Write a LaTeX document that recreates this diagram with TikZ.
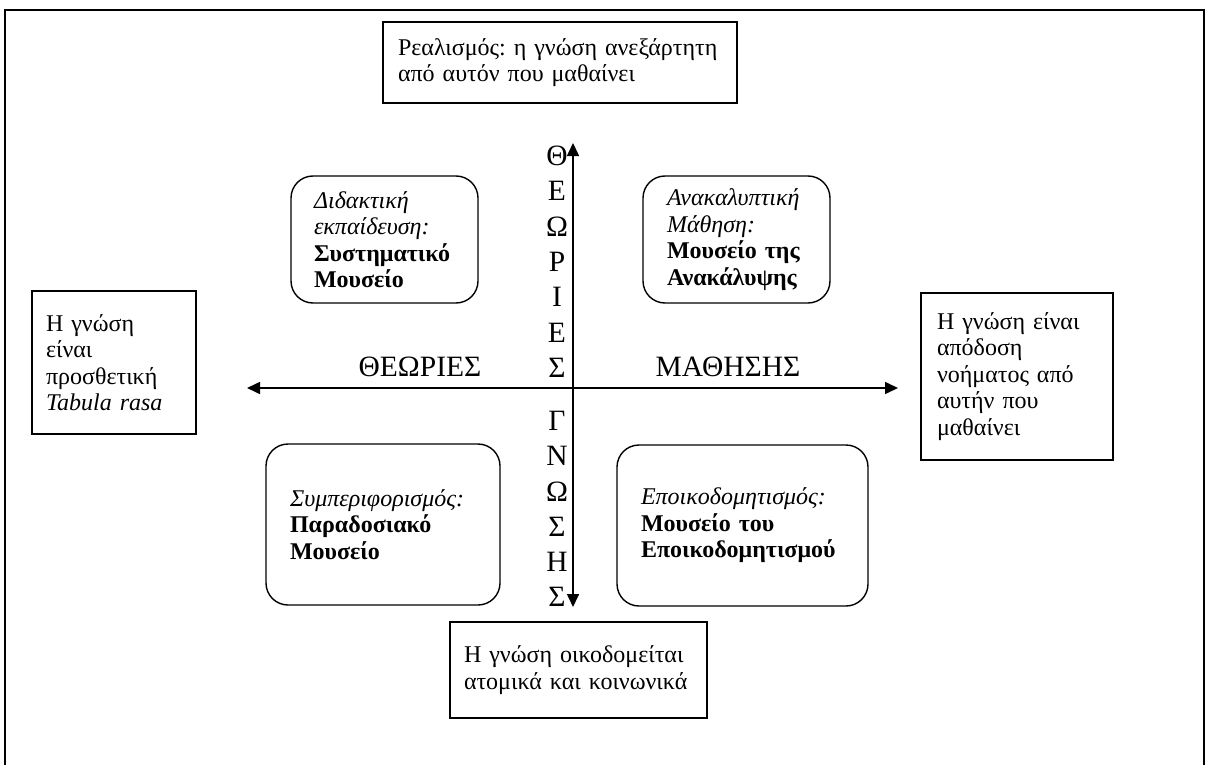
\documentclass[tikz,border=0pt]{standalone}
\usepackage{fontspec}
\setmainfont{Liberation Serif}
\usetikzlibrary{arrows.meta}
\frenchspacing

\tikzset{
	txtbox/.style={draw, line width=1.4pt, align=left, inner ysep=0pt,
		font=\fontsize{24}{26.5}\selectfont},
	rbox/.style={txtbox, rounded corners=22pt},
	axislbl/.style={inner sep=0pt, font=\fontsize{29.5}{29.5}\selectfont},
	axisline/.style={line width=1.6pt,
		{Triangle[length=13pt,width=12pt]}-{Triangle[length=13pt,width=12pt]}}
}

\begin{document}
\begin{tikzpicture}[x=1pt,y=-1pt]
		
		\useasboundingbox (0,0) rectangle (1209,765);
		
		% Πλαίσιο
		\draw[line width=1.5pt] (5,765) -- (5,10) -- (1204,10) -- (1204,765);
		
		% Πλαίσια γνώσης
		\node[txtbox, text width=324pt, inner xsep=15pt, minimum height=81pt] (realism) at (560,62.5)
			{Ρεαλισμός: η γνώση ανεξάρτητη\\από αυτόν που μαθαίνει};
		\node[txtbox, text width=136pt, inner xsep=14pt, minimum height=143pt] (tabula) at (114,362.5)
			{Η γνώση\\είναι\\προσθετική\\\textit{Tabula rasa}};
		\node[txtbox, text width=160pt, inner xsep=16pt, minimum height=167pt] (meaning) at (1017,376.5)
			{Η γνώση είναι\\απόδοση\\νοήματος από\\αυτήν που\\μαθαίνει};
		\node[txtbox, text width=229pt, inner xsep=14pt, minimum height=96pt] (social) at (578.5,670)
			{Η γνώση οικοδομείται\\ατομικά και κοινωνικά};
		
		% Μουσεία
		\node[rbox, text width=141pt, inner xsep=23pt, minimum height=127pt] (systematic) at (384.5,239.5)
			{\textit{Διδακτική}\\\textit{εκπαίδευση:}\\\textbf{Συστηματικό}\\\textbf{Μουσείο}};
		\node[rbox, text width=139pt, inner xsep=24pt, minimum height=127pt] (discovery) at (736.5,239.5)
			{\textit{Ανακαλυπτική}\\\textit{Μάθηση:}\\\textbf{Μουσείο της}\\\textbf{Ανακάλυψης}};
		\node[rbox, text width=186pt, inner xsep=24pt, minimum height=161pt] (traditional) at (383,524.5)
			{\textit{Συμπεριφορισμός:}\\\textbf{Παραδοσιακό}\\\textbf{Μουσείο}};
		\node[rbox, text width=203pt, inner xsep=24pt, minimum height=161pt] (constructive) at (742.5,525.5)
			{\textit{Εποικοδομητισμός:}\\\textbf{Μουσείο του}\\\textbf{Εποικοδομητισμού}};
		
		% Άξονες
		\coordinate (top) at (573,143);
		\coordinate (bottom) at (573,607);
		\coordinate (left) at (247,388);
		\coordinate (right) at (898,388);
		\draw[axisline] (bottom) -- (top);
		\draw[axisline] (left) -- (right);
		
		% Ετικέτες αξόνων
		\node[axislbl] (theories) at (420,367) {ΘΕΩΡΙΕΣ};
		\node[axislbl] (learning) at (728,367) {ΜΑΘΗΣΗΣ};
		\foreach \c [count=\i from 0] in {Θ,Ε,Ω,Ρ,Ι,Ε,Σ}
			\node[axislbl] (up\i) at (557,156+35.3*\i) {\c};
		\foreach \c [count=\i from 0] in {Γ,Ν,Ω,Σ,Η,Σ}
			\node[axislbl] (down\i) at (557,421+35.2*\i) {\c};
		
	\end{tikzpicture}
\end{document}
